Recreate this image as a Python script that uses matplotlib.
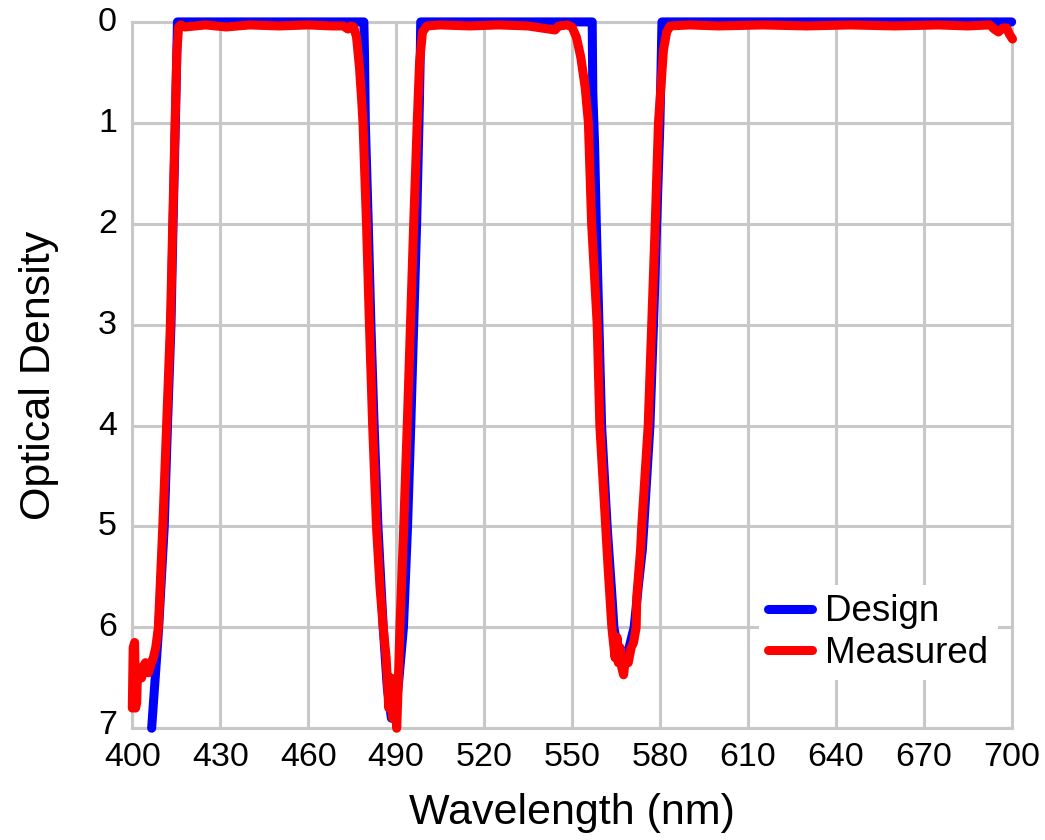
import matplotlib
matplotlib.use("Agg")
import matplotlib.pyplot as plt
import matplotlib.transforms as mtransforms

# ---- data ----
design_wl = [406.6, 408.3, 409.0, 410.9, 412.0, 413.2, 413.9, 414.7, 415.2, 415.4,
             440, 470,
             479.0, 479.2, 479.5, 480.5, 481.4, 482.5, 483.8, 485.6, 487.0, 488.4, 489.6, 491.0, 492.5,
             493.9, 495.0, 496.0, 497.0, 497.8, 498.2, 498.4,
             520, 540,
             556.9, 557.1, 557.7, 558.3, 559.2, 560.1, 562.0, 563.7, 564.3, 565.5, 567.5, 569.5, 571.2,
             572.6, 574.0, 574.5, 576.6, 577.8, 578.9, 580.0, 580.5, 580.7,
             620, 660, 700]
design_od = [7.0, 6.3, 6.0, 5.0, 4.0, 3.0, 2.0, 1.0, 0.3, 0.0,
             0.0, 0.0,
             0.0, 0.3, 1.0, 2.0, 3.0, 4.0, 5.0, 6.0, 6.6, 6.9, 6.9, 6.5, 6.0,
             5.0, 4.0, 3.0, 2.0, 1.0, 0.4, 0.0,
             0.0, 0.0,
             0.0, 0.7, 1.2, 2.0, 3.0, 4.0, 5.0, 5.72, 6.0, 6.2, 6.3, 6.2, 6.0,
             5.6, 5.23, 5.0, 4.0, 3.0, 2.0, 1.0, 0.3, 0.0,
             0.0, 0.0, 0.0]

measured_wl = [400.0, 400.3, 400.8, 401.1, 401.5, 401.8, 402.5, 403.2, 403.5, 404.5, 405.5, 406.5,
               407.2, 408.0, 408.9, 410.4, 411.7, 413.0, 413.8, 414.6, 415.2, 415.8, 416.5, 418,
               425, 432, 440, 450, 460, 468, 472.0, 473.5, 474.5, 475.5, 476.5, 477.5, 478.3,
               478.7, 479.9, 480.9, 482.0, 483.3, 484.5, 485.6, 486.6, 487.5, 488.2, 488.8, 489.4,
               490.2, 490.8, 491.3, 492.6, 493.8, 494.9, 496.0, 497.2, 498.0, 499.0, 500.5,
               505, 515, 525, 535, 544.2, 545.5, 548.5, 550.0, 551.5, 553.0, 554.5, 555.6, 556.7,
               558.6, 559.5, 561.5, 562.3, 563.6, 564.7, 565.4, 565.8, 566.4, 567.0, 567.6,
               568.3, 569.2, 570.2, 571.0, 571.9, 572.1, 573.4, 573.8, 576.0, 577.2, 578.4,
               579.5, 581.2, 582.3, 583.5, 590, 600, 615, 630, 645, 660, 675, 685, 692.6,
               694, 695.5, 697, 698.3, 699.2, 700.3]
measured_od = [6.8, 6.2, 6.15, 6.8, 6.75, 6.4, 6.45, 6.5, 6.4, 6.35, 6.45, 6.35,
               6.3, 6.2, 6.0, 5.0, 4.0, 3.0, 2.0, 1.0, 0.3, 0.05, 0.03, 0.05,
               0.03, 0.05, 0.03, 0.04, 0.03, 0.04, 0.04, 0.07, 0.04, 0.05, 0.15, 0.45, 0.8,
               1.0, 2.0, 3.0, 4.0, 5.0, 5.6, 6.0, 6.3, 6.8, 6.5, 6.9, 6.6,
               7.0, 6.5, 6.0, 5.0, 4.0, 3.0, 2.0, 1.0, 0.4, 0.1, 0.04,
               0.03, 0.04, 0.03, 0.04, 0.08, 0.04, 0.03, 0.05, 0.15, 0.35, 0.65, 1.0, 2.0,
               3.0, 4.0, 5.0, 5.4, 6.0, 6.3, 6.1, 6.35, 6.2, 6.4, 6.47,
               6.3, 6.35, 6.2, 6.15, 6.0, 5.7, 5.23, 5.0, 4.0, 3.0, 2.0,
               1.0, 0.28, 0.1, 0.04, 0.03, 0.04, 0.03, 0.04, 0.03, 0.04, 0.03, 0.04, 0.03,
               0.07, 0.1, 0.06, 0.06, 0.12, 0.17]

x_ticks = [400, 430, 460, 490, 520, 550, 580, 610, 640, 670, 700]
y_ticks = [0, 1, 2, 3, 4, 5, 6, 7]

plt.rcParams['font.family'] = ['Liberation Sans', 'DejaVu Sans']

fig = plt.figure(figsize=(10.45, 8.4), dpi=100)
ax = fig.add_axes([0.1266, 0.1330, 0.8415, 0.8409])

grid_c = '#c8c8c8'
ax.plot(design_wl, design_od, color='#0000ff', lw=6.5, label='Design',
        solid_capstyle='round', solid_joinstyle='round', clip_on=False, zorder=3)
ax.plot(measured_wl, measured_od, color='#ff0000', lw=6.5, label='Measured',
        solid_capstyle='round', solid_joinstyle='round', clip_on=False, zorder=4)

ax.set_xlim(400, 700)
ax.set_ylim(7, 0)
ax.set_xticks(x_ticks)
ax.set_yticks(y_ticks)
ax.grid(True, color=grid_c, lw=2.2)
ax.set_axisbelow(True)
for s in ax.spines.values():
    s.set_color(grid_c)
    s.set_linewidth(2.2)
    s.set_zorder(0.5)
ax.tick_params(length=0, labelsize=24.5, pad=11, colors='black')
ax.tick_params(axis='x', pad=10)

# nudge y tick labels slightly upward (the bottom one more, as in the reference)
for i, lab in enumerate(ax.get_yticklabels()):
    dy = 3 if i < len(y_ticks) - 1 else 6
    lab.set_transform(lab.get_transform() + mtransforms.ScaledTranslation(0, dy / 100, fig.dpi_scale_trans))

ax.set_xlabel('Wavelength (nm)', fontsize=31, labelpad=14)
ax.set_ylabel('Optical Density', fontsize=31, labelpad=28)

leg = ax.legend(loc='lower right', bbox_to_anchor=(0.984, 0.068), borderaxespad=0,
                fontsize=26.5, frameon=True, framealpha=1, edgecolor='none', facecolor='white',
                fancybox=False, borderpad=0.25, labelspacing=0.18, handlelength=1.2,
                handletextpad=0.35)
leg.set_zorder(5)

fig.savefig('out.png', dpi=100)
